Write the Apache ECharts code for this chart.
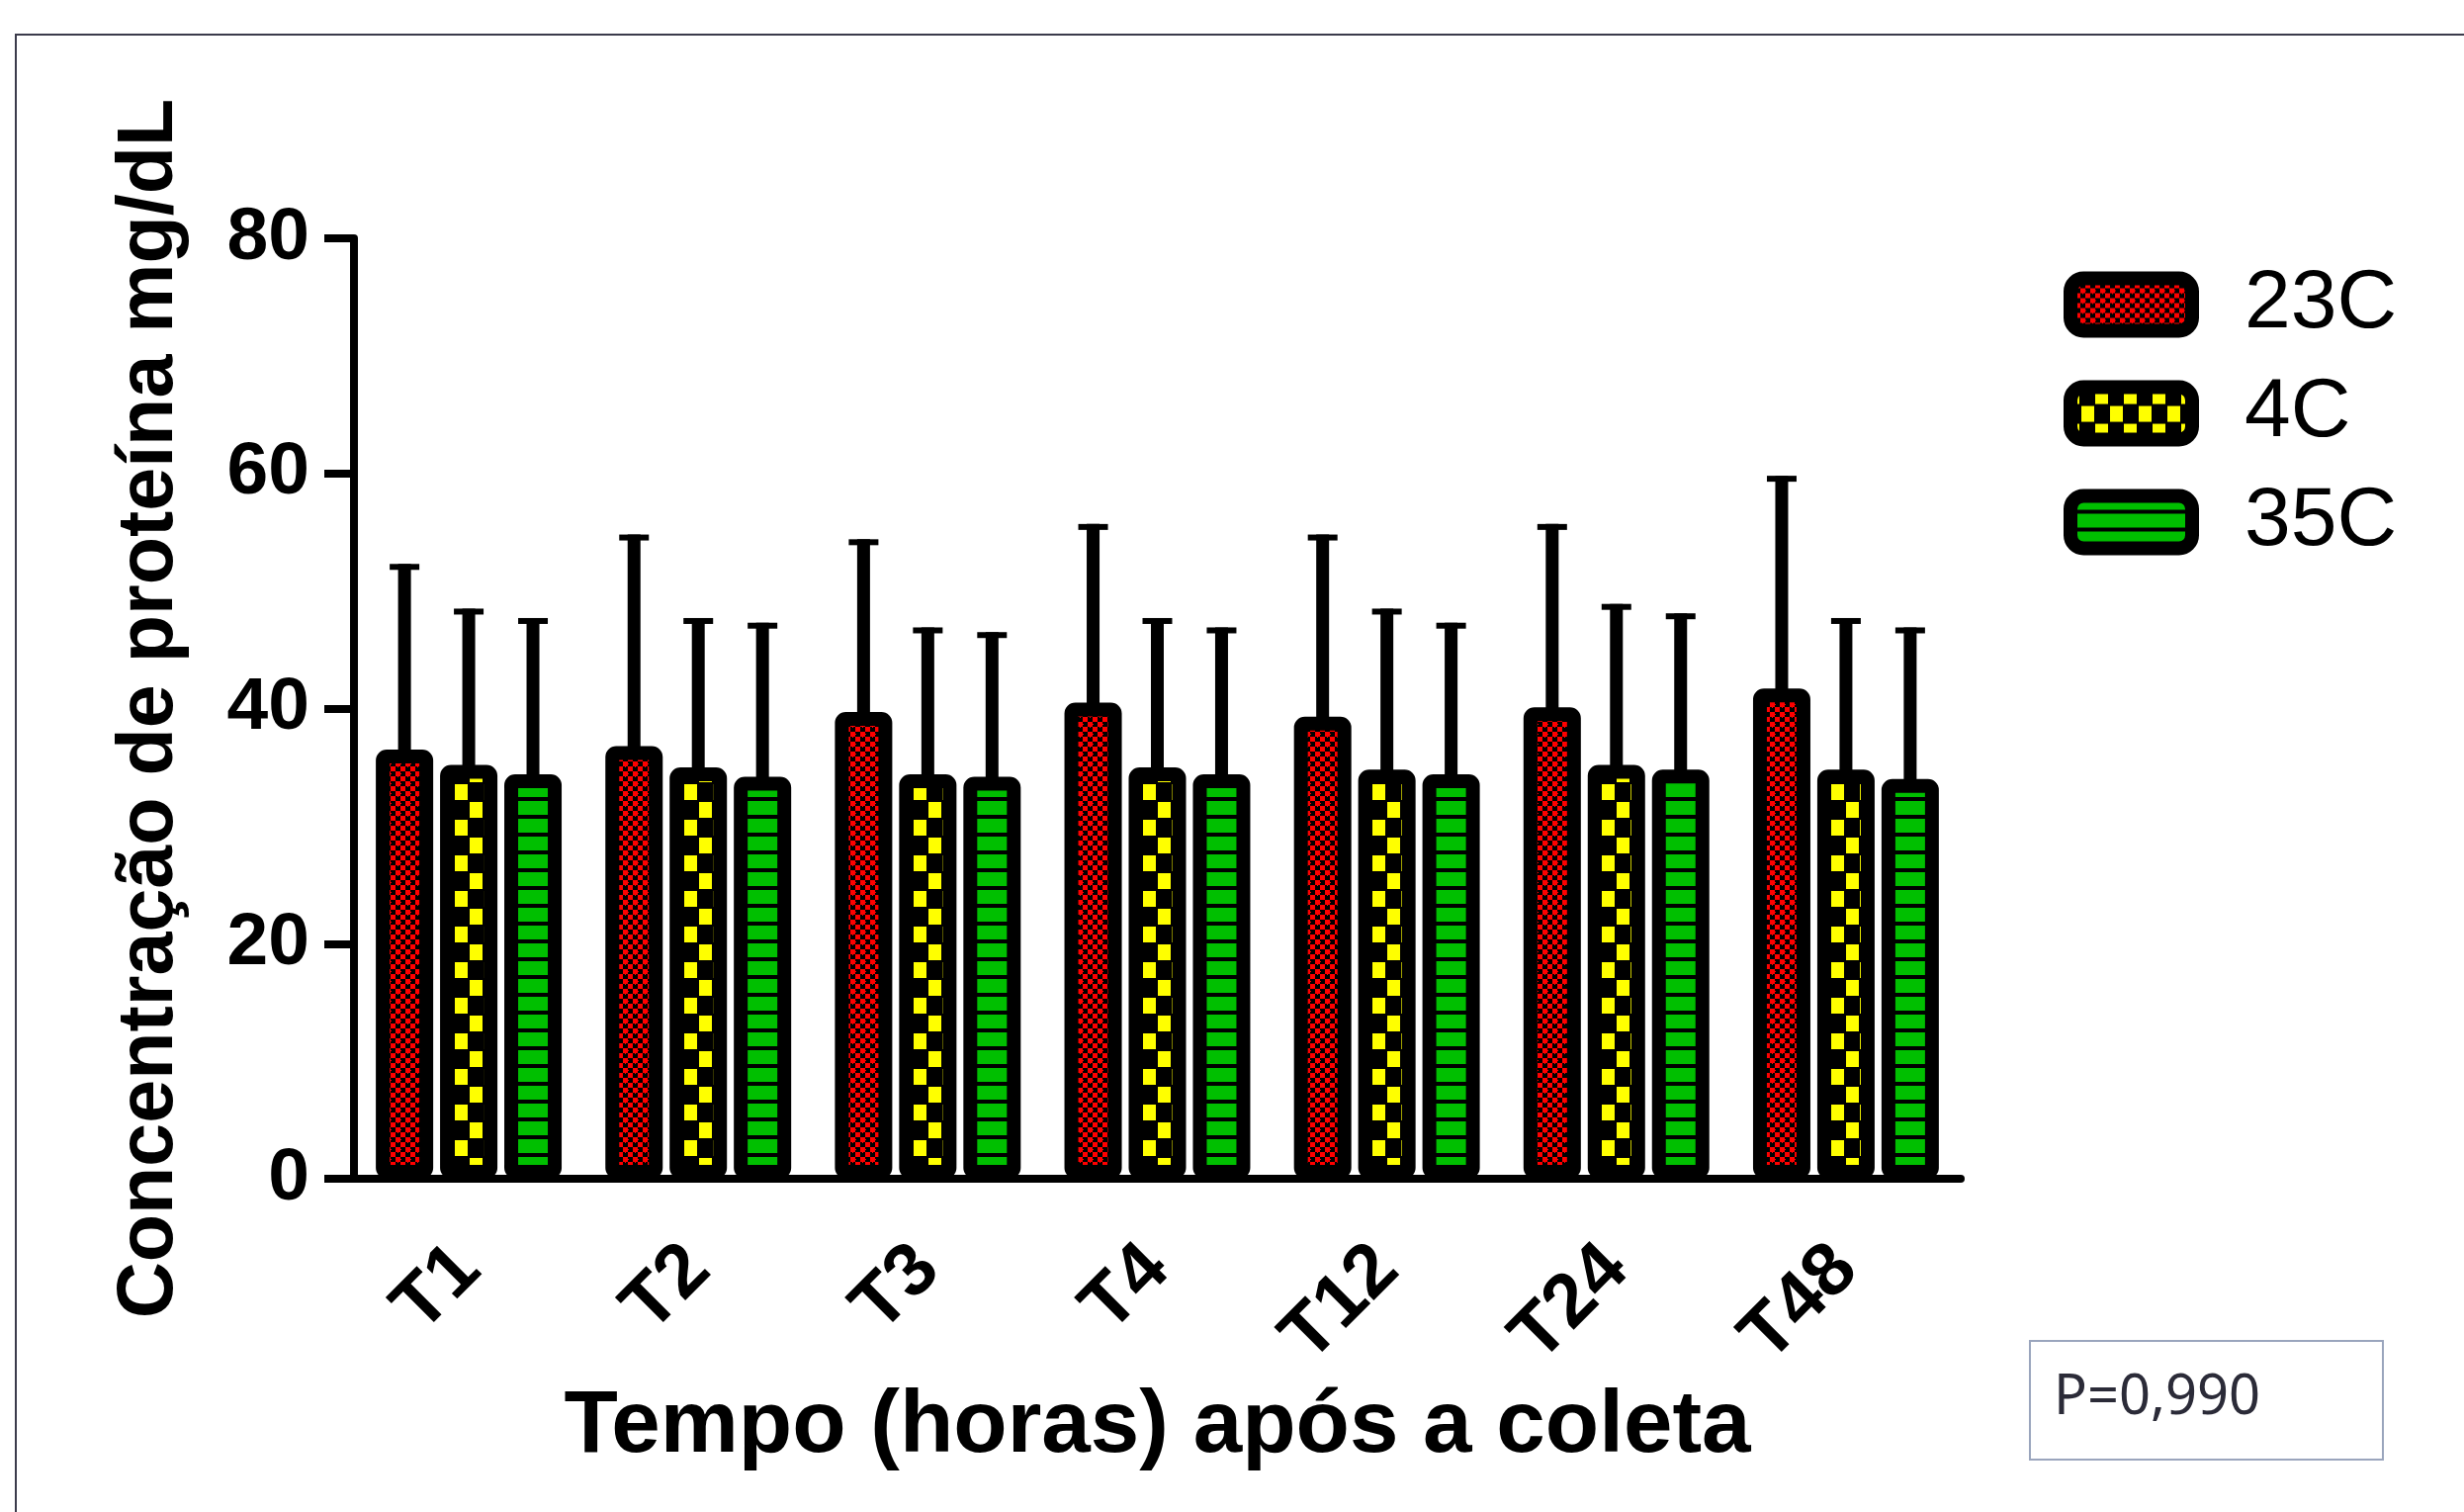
<!DOCTYPE html>
<html>
<head>
<meta charset="utf-8">
<script src="https://cdn.jsdelivr.net/npm/echarts@6/dist/echarts.min.js"></script>
<style>
    html, body { margin: 0; padding: 0; background: #fff; }
    #chart { width: 2492px; height: 1529px; }
</style>
</head>
<body>
<div id="chart"></div>
<script>
var categories = ['T1', 'T2', 'T3', 'T4', 'T12', 'T24', 'T48'];
var seriesNames = ['23C', '4C', '35C'];

// médias (mg/dL)
var mean23 = [36.5, 36.8, 39.7, 40.5, 39.3, 40.1, 41.7];
var mean4 = [35.2, 35.0, 34.4, 35.0, 34.8, 35.2, 34.8];
var mean35 = [34.4, 34.2, 34.2, 34.4, 34.4, 34.8, 34.0];

// desvio padrão (só a barra superior aparece)
var sd23 = [15.8, 18.0, 14.7, 15.2, 15.5, 15.6, 18.1];
var sd4 = [13.3, 12.7, 12.5, 12.7, 13.7, 13.7, 12.9];
var sd35 = [13.3, 13.1, 12.3, 12.5, 12.9, 13.3, 12.9];

var yTicks = { min: 0, max: 80, interval: 20 };
var pText = 'P=0,990';

var BAR_W = 58;
var BAR_GAP = 0.12;
var BORDER = 14;

// padrões de preenchimento (estilo GraphPad)
function makeTile(w, h, draw) {
    var c = document.createElement('canvas');
    c.width = w;
    c.height = h;
    var ctx = c.getContext('2d');
    ctx.fillStyle = '#000';
    ctx.fillRect(0, 0, w, h);
    draw(ctx, w);
    return { image: c, repeat: 'repeat' };
}

// retângulo que dá a volta na largura do ladrilho
function wrapRect(ctx, w, x, y, rw, rh) {
    x = ((x % w) + w) % w;
    ctx.fillRect(x, y, rw, rh);
    if (x + rw > w) ctx.fillRect(x - w, y, rw, rh);
}

var redPattern = makeTile(10, 10, function (ctx) {
    ctx.fillStyle = '#ff0000';
    ctx.fillRect(0, 0, 5, 5);
    ctx.fillRect(5, 5, 5, 5);
    ctx.fillRect(4, 2, 2, 1);
    ctx.fillRect(2, 4, 1, 2);
});
var yellowPattern = makeTile(29, 36, function (ctx, w) {
    ctx.fillStyle = '#ffff00';
    // colunas alinhadas com o interior das barras amarelas
    wrapRect(ctx, w, 25, 1, 13, 16);
    wrapRect(ctx, w, 40, 19, 13, 16);
});
var greenPattern = makeTile(4, 18, function (ctx) {
    ctx.fillStyle = '#00bf00';
    ctx.fillRect(0, 0, 4, 14);
});
var patterns = [redPattern, yellowPattern, greenPattern];

var means = [mean23, mean4, mean35];
var sds = [sd23, sd4, sd35];

var errData = [];
for (var s = 0; s < 3; s++) {
    for (var i = 0; i < categories.length; i++) {
        errData.push([i, means[s][i], sds[s][i], s]);
    }
}

var barSeries = [];
for (var k = 0; k < 3; k++) {
    barSeries.push({
        name: seriesNames[k],
        type: 'bar',
        data: means[k],
        barWidth: BAR_W,
        barGap: (BAR_GAP * 100) + '%',
        itemStyle: {
            color: patterns[k],
            borderColor: '#000',
            borderWidth: BORDER,
            borderRadius: 4
        },
        emphasis: { disabled: true },
        z: 2
    });
}

var step = BAR_W * (1 + BAR_GAP);

barSeries.push({
    name: 'sd',
    type: 'custom',
    data: errData,
    encode: { x: 0, y: 1 },
    z: 3,
    silent: true,
    renderItem: function (params, api) {
        var idx = api.value(3);
        var x = api.coord([api.value(0), 0])[0] + (idx - 1) * step;
        var y0 = api.coord([api.value(0), api.value(1)])[1] + 4;
        var y1 = api.coord([api.value(0), api.value(1) + api.value(2)])[1];
        return {
            type: 'group',
            children: [
                {
                    type: 'line',
                    shape: { x1: x, y1: y0, x2: x, y2: y1 },
                    style: { stroke: '#000', lineWidth: 13 }
                },
                {
                    type: 'line',
                    shape: { x1: x - 15, y1: y1 + 3, x2: x + 15, y2: y1 + 3 },
                    style: { stroke: '#000', lineWidth: 6 }
                }
            ]
        };
    }
});

var chart = echarts.init(document.getElementById('chart'), null, { renderer: 'canvas' });

chart.setOption({
    animation: false,
    backgroundColor: '#fff',
    textStyle: { fontFamily: 'Liberation Sans, Arial, sans-serif' },
    grid: { left: 358, right: 509, top: 241, bottom: 337, containLabel: false },
    legend: {
        data: seriesNames,
        orient: 'vertical',
        left: 2087,
        top: 266,
        padding: 0,
        itemWidth: 123,
        itemHeight: 53,
        itemGap: 26,
        icon: 'roundRect',
        selectedMode: false,
        itemStyle: { borderColor: '#000', borderWidth: BORDER },
        textStyle: {
            fontSize: 84,
            color: '#000',
            fontFamily: 'Liberation Sans, Arial, sans-serif',
            padding: [0, 0, 0, 48]
        }
    },
    xAxis: {
        type: 'category',
        data: categories,
        name: 'Tempo (horas) após a coleta',
        nameLocation: 'middle',
        nameGap: 206,
        nameTextStyle: { fontSize: 89, fontWeight: 'bold', color: '#000' },
        axisLine: { lineStyle: { color: '#000', width: 8 } },
        axisTick: { alignWithLabel: true, length: 33, lineStyle: { color: '#000', width: 8 } },
        axisLabel: {
            rotate: 45,
            interval: 0,
            margin: 80,
            fontSize: 76,
            fontWeight: 'bold',
            color: '#000'
        }
    },
    yAxis: {
        type: 'value',
        min: yTicks.min,
        max: yTicks.max,
        interval: yTicks.interval,
        name: 'Concentração de proteína mg/dL',
        nameLocation: 'middle',
        nameGap: 166,
        nameTextStyle: { fontSize: 79, fontWeight: 'bold', color: '#000' },
        axisLine: { show: true, lineStyle: { color: '#000', width: 8 } },
        axisTick: { show: true, length: 30, lineStyle: { color: '#000', width: 8 } },
        axisLabel: { margin: 45, fontSize: 75, fontWeight: 'bold', color: '#000' },
        splitLine: { show: false }
    },
    graphic: [
        {
            type: 'rect',
            shape: { x: 16, y: 35, width: 2600, height: 1700 },
            style: { fill: null, stroke: '#3b3b4b', lineWidth: 2 },
            silent: true,
            z: 0
        },
        {
            type: 'rect',
            shape: { x: 2053, y: 1356, width: 357, height: 120 },
            style: { fill: '#fff', stroke: '#9aa5bd', lineWidth: 2 },
            silent: true
        },
        {
            type: 'text',
            left: 2077,
            top: 1386,
            style: {
                text: pText,
                font: '56px "Noto Sans", "Open Sans", sans-serif',
                fill: '#2b2b38'
            },
            silent: true
        }
    ],
    series: barSeries
});
</script>
</body>
</html>
